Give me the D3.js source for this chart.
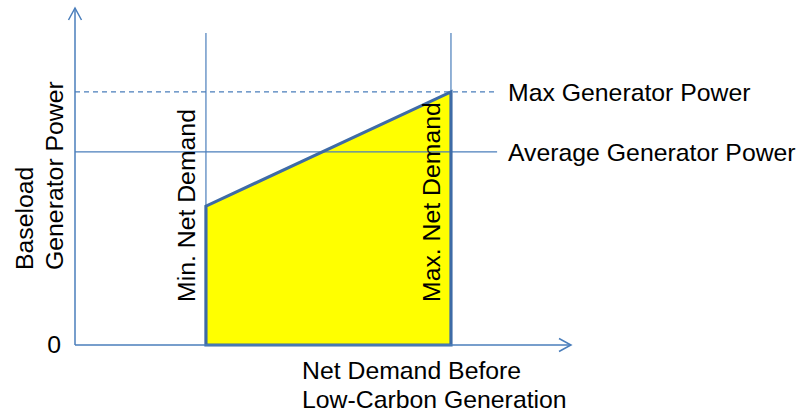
<!DOCTYPE html>
<html><head><meta charset="utf-8">
<script src="https://cdn.jsdelivr.net/npm/d3@7"></script>
<style>body{margin:0;background:#fff}svg{display:block}text{font-family:"Liberation Sans",Arial,sans-serif;fill:#000}</style>
</head><body><svg id="c" width="800" height="412"></svg>
<script>
// demand (x) markers and power (y) levels, in arbitrary units 0-100
const demandMarkers = [
  {name: "Min. Net Demand", x: 26.4},
  {name: "Max. Net Demand", x: 75.8}
];
const powerLevels = [
  {name: "Max Generator Power", y: 75.1, dashed: true},
  {name: "Average Generator Power", y: 57.3, dashed: false}
];
// baseload region: power at min demand rising linearly to max power at max demand
const baseloadX = [26.4, 26.4, 75.8, 75.8];
const baseloadY = [0, 41.2, 75.1, 0];
const yTickLabels = ["0"];
const xAxisLabel = ["Net Demand Before", "Low-Carbon Generation"];
const yAxisLabel = ["Baseload", "Generator Power"];

const svg = d3.select("#c");
const x = d3.scaleLinear().domain([0, 100]).range([75, 571]);
const y = d3.scaleLinear().domain([0, 100]).range([345, 8]);
const axisCol = "#4a7ebb";

// polygon fill
const poly = baseloadX.map((v, i) => [x(v), y(baseloadY[i])]);
svg.append("path").attr("d", "M" + poly.join("L") + "Z")
  .attr("fill", "#ffff00").attr("stroke", "none");

// vertical marker lines
svg.selectAll("line.v").data(demandMarkers).join("line")
  .attr("x1", d => x(d.x)).attr("x2", d => x(d.x))
  .attr("y1", y(0)).attr("y2", y(92.6))
  .attr("stroke", axisCol).attr("stroke-width", 1.2);

// horizontal power lines
svg.selectAll("line.h").data(powerLevels).join("line")
  .attr("x1", x(0)).attr("x2", x(85.1))
  .attr("y1", d => y(d.y)).attr("y2", d => y(d.y))
  .attr("stroke", axisCol).attr("stroke-width", 1.2)
  .attr("stroke-dasharray", d => d.dashed ? "5,4" : null);

// polygon outline
svg.append("path").attr("d", "M" + poly.join("L") + "Z")
  .attr("fill", "none").attr("stroke", "#3e6ba6").attr("stroke-width", 3.2)
  .attr("stroke-linejoin", "miter");

// axes with arrows
svg.append("line").attr("x1", x(0)).attr("x2", x(0)).attr("y1", y(0)).attr("y2", y(100))
  .attr("stroke", axisCol).attr("stroke-width", 1.5);
svg.append("line").attr("x1", x(0)).attr("x2", x(100)).attr("y1", y(0)).attr("y2", y(0))
  .attr("stroke", axisCol).attr("stroke-width", 1.5);
svg.append("path").attr("d", `M${x(0)-6.5},${y(100)+12}L${x(0)},${y(100)}L${x(0)+6.5},${y(100)+12}`)
  .attr("fill", "none").attr("stroke", axisCol).attr("stroke-width", 1.5);
svg.append("path").attr("d", `M${x(100)-12},${y(0)-6.5}L${x(100)},${y(0)}L${x(100)-12},${y(0)+6.5}`)
  .attr("fill", "none").attr("stroke", axisCol).attr("stroke-width", 1.5);

const fs = 24.8;
// tick label
svg.selectAll("text.tick").data(yTickLabels).join("text")
  .attr("x", 61).attr("y", y(0) + 8).attr("text-anchor", "end")
  .style("font-size", fs + "px").text(d => d);

// power level labels
svg.selectAll("text.pl").data(powerLevels).join("text")
  .attr("x", 508).attr("y", d => y(d.y) + 9)
  .style("font-size", fs + "px").text(d => d.name);

// demand marker labels (rotated)
svg.selectAll("text.dm").data(demandMarkers).join("text")
  .attr("transform", d => `translate(${x(d.x) - 11},${302}) rotate(-90)`)
  .style("font-size", fs + "px").text(d => d.name);

// axis titles
svg.selectAll("text.xl").data(xAxisLabel).join("text")
  .attr("x", 302).attr("y", (d, i) => 379 + i * 29)
  .style("font-size", fs + "px").text(d => d);
svg.selectAll("text.yl").data(yAxisLabel).join("text")
  .attr("transform", (d, i) => `translate(${33 + i * 30},${270}) rotate(-90)`)
  .style("font-size", fs + "px").text(d => d);
</script></body></html>
